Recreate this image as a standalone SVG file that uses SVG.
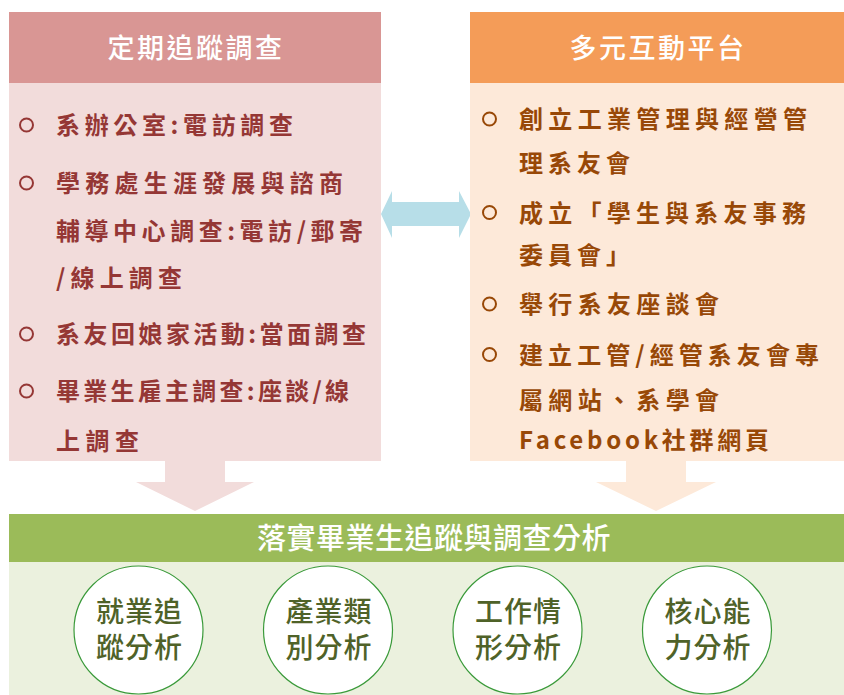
<svg xmlns="http://www.w3.org/2000/svg" width="844" height="695" viewBox="0 0 844 695">
<style>
.hdr{font-family:"Noto Sans CJK TC","Noto Sans CJK SC",sans-serif;font-size:27px;font-weight:500;fill:#ffffff;text-anchor:middle;letter-spacing:2.5px}
.itemL{font-family:"Noto Sans CJK TC","Noto Sans CJK SC",sans-serif;font-size:24px;font-weight:700;fill:#953735;letter-spacing:5px}
.itemR{font-family:"Noto Sans CJK TC","Noto Sans CJK SC",sans-serif;font-size:24px;font-weight:700;fill:#984807;letter-spacing:5px}
.bulL{fill:none;stroke:#953735;stroke-width:2}
.bulR{fill:none;stroke:#984807;stroke-width:2}
.title{font-family:"Noto Sans CJK TC","Noto Sans CJK SC",sans-serif;font-size:29px;font-weight:500;fill:#ffffff;text-anchor:middle;letter-spacing:0.5px}
.oval{fill:#ffffff;stroke:#3a9a3a;stroke-width:1.2}
.ovt{font-family:"Noto Sans CJK TC","Noto Sans CJK SC",sans-serif;font-size:28px;font-weight:500;fill:#4f6228;text-anchor:middle;letter-spacing:1px}
</style>
<rect width="844" height="695" fill="#ffffff"/>

<g id="connectors">
  <polygon points="165,459 225,459 225,482 254,482 195,511 136,482 165,482" fill="#f2dcdb"/>
  <polygon points="626,459 686,459 686,482 716,482 656,511 596,482 626,482" fill="#fde9d9"/>
  <polygon points="381,214 392,191 392,202 459,202 459,191 471,214 459,238 459,226 392,226 392,238" fill="#b7dee8"/>
</g>

<g id="regular-tracking">
  <rect x="9" y="12" width="372" height="71" fill="#d99694"/>
  <rect x="9" y="83" width="372" height="378" fill="#f2dcdb"/>
  <text class="hdr" x="196" y="58">定期追蹤調查</text>
  <circle class="bulL" cx="26.5" cy="125" r="6.5"/>
  <text class="itemL" x="56" y="134" textLength="242" lengthAdjust="spacing">系辦公室:電訪調查</text>
  <circle class="bulL" cx="26.5" cy="183" r="6.5"/>
  <text class="itemL" x="56" y="192" textLength="292" lengthAdjust="spacing">學務處生涯發展與諮商</text>
  <text class="itemL" x="56" y="240" textLength="312" lengthAdjust="spacing">輔導中心調查:電訪/郵寄</text>
  <text class="itemL" x="56" y="287" textLength="131" lengthAdjust="spacing">/線上調查</text>
  <circle class="bulL" cx="26.5" cy="334" r="6.5"/>
  <text class="itemL" x="56" y="343" textLength="315" lengthAdjust="spacing">系友回娘家活動:當面調查</text>
  <circle class="bulL" cx="26.5" cy="391" r="6.5"/>
  <text class="itemL" x="56" y="400" textLength="298" lengthAdjust="spacing">畢業生雇主調查:座談/線</text>
  <text class="itemL" x="56" y="450" textLength="88" lengthAdjust="spacing">上調查</text>
</g>

<g id="interactive-platform">
  <rect x="470" y="12" width="374" height="71" fill="#f49c58"/>
  <rect x="470" y="83" width="374" height="378" fill="#fde9d9"/>
  <text class="hdr" x="658" y="58">多元互動平台</text>
  <circle class="bulR" cx="489.5" cy="119" r="6.5"/>
  <text class="itemR" x="519" y="128" textLength="293" lengthAdjust="spacing">創立工業管理與經營管</text>
  <text class="itemR" x="519" y="172" textLength="116" lengthAdjust="spacing">理系友會</text>
  <circle class="bulR" cx="489.5" cy="212.5" r="6.5"/>
  <text class="itemR" x="519" y="221.5" textLength="292" lengthAdjust="spacing">成立「學生與系友事務</text>
  <text class="itemR" x="519" y="263.5">委員會」</text>
  <circle class="bulR" cx="489.5" cy="304" r="6.5"/>
  <text class="itemR" x="519" y="313" textLength="205" lengthAdjust="spacing">舉行系友座談會</text>
  <circle class="bulR" cx="489.5" cy="354.5" r="6.5"/>
  <text class="itemR" x="519" y="363.5" textLength="305" lengthAdjust="spacing">建立工管/經管系友會專</text>
  <text class="itemR" x="519" y="409" textLength="205" lengthAdjust="spacing">屬網站、系學會</text>
  <text class="itemR" x="519" y="449" textLength="255" lengthAdjust="spacing">Facebook社群網頁</text>
</g>

<g id="analysis">
  <rect x="9" y="514" width="835" height="48" fill="#9bbb59"/>
  <rect x="9" y="562" width="835" height="133" fill="#ebf1de"/>
  <text class="title" x="434" y="548.5">落實畢業生追蹤與調查分析</text>
</g>

<g id="employment-tracking">
  <ellipse class="oval" cx="138.5" cy="630" rx="64.5" ry="64"/>
  <text class="ovt" x="139.5" y="622">就業追<tspan x="139.5" y="658">蹤分析</tspan></text>
</g>
<g id="industry-category">
  <ellipse class="oval" cx="328" cy="630" rx="64.5" ry="64"/>
  <text class="ovt" x="329" y="622">產業類<tspan x="329" y="658">別分析</tspan></text>
</g>
<g id="work-situation">
  <ellipse class="oval" cx="517.5" cy="630" rx="64.5" ry="64"/>
  <text class="ovt" x="518.5" y="622">工作情<tspan x="518.5" y="658">形分析</tspan></text>
</g>
<g id="core-competency">
  <ellipse class="oval" cx="707" cy="630" rx="64.5" ry="64"/>
  <text class="ovt" x="708" y="622">核心能<tspan x="708" y="658">力分析</tspan></text>
</g>
</svg>
